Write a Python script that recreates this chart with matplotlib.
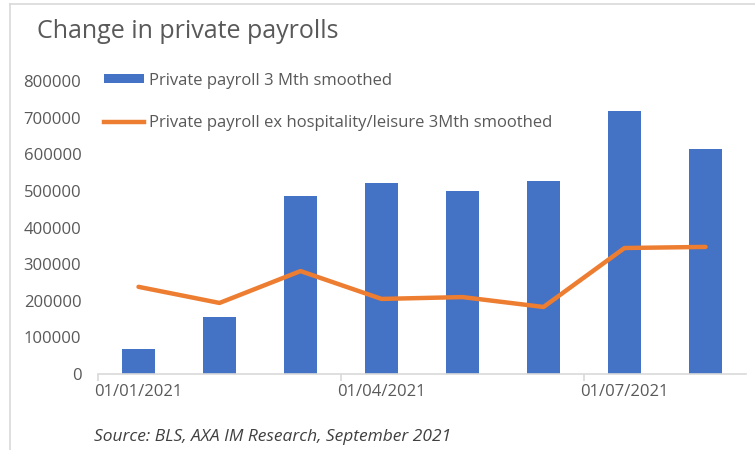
import matplotlib
matplotlib.use("Agg")
import matplotlib.pyplot as plt
from matplotlib.lines import Line2D
from matplotlib.patches import Patch
import numpy as np

months = ["01/01/2021", "01/02/2021", "01/03/2021", "01/04/2021",
          "01/05/2021", "01/06/2021", "01/07/2021", "01/08/2021"]
payroll_3m = [68000, 156000, 486000, 522000, 500000, 527000, 718000, 615000]
payroll_ex_hosp_3m = [238000, 194000, 281000, 205000, 210000, 183000, 344000, 347000]
yticks = [0, 100000, 200000, 300000, 400000, 500000, 600000, 700000, 800000]
xlabel_idx = [0, 3, 6]

BLUE = "#4472C4"
ORANGE = "#ED7D31"
GRAY = "#595959"
LGRAY = "#D9D9D9"

plt.rcParams['font.family'] = ['Open Sans', 'DejaVu Sans']

fig = plt.figure(figsize=(7.55, 4.5), dpi=100)
ax = fig.add_axes([98/755, 1-374/450, (746-98)/755, (374-81)/450])

x = np.arange(len(months))
ax.bar(x, payroll_3m, width=0.41, color=BLUE, zorder=2)
ax.plot(x, payroll_ex_hosp_3m, color=ORANGE, lw=3.2, solid_capstyle='round', zorder=3)

ax.set_xlim(-0.5, len(months) - 0.5)
ax.set_ylim(0, 800000)
ax.set_yticks(yticks)
ax.set_yticklabels([str(v) for v in yticks])
ax.tick_params(axis='y', length=0, pad=12, labelsize=12, labelcolor=GRAY)

# major ticks at category boundaries (no labels), minor for labels
ax.set_xticks([i - 0.5 for i in xlabel_idx])
ax.set_xticklabels([])
ax.set_xticks(xlabel_idx, minor=True)
ax.set_xticklabels([months[i] for i in xlabel_idx], minor=True)
ax.tick_params(axis='x', which='major', length=5, color=LGRAY, width=1.2)
ax.tick_params(axis='x', which='minor', length=0, pad=7, labelsize=12, labelcolor=GRAY)

for s in ['top', 'right', 'left']:
    ax.spines[s].set_visible(False)
ax.spines['bottom'].set_color(LGRAY)
ax.spines['bottom'].set_linewidth(1.2)

handles = [Patch(facecolor=BLUE, edgecolor='none'),
           Line2D([0], [0], color=ORANGE, lw=3.2)]
labels = ["Private payroll 3 Mth smoothed",
          "Private payroll ex hospitality/leisure 3Mth smoothed"]
leg = ax.legend(handles, labels, loc='upper left', bbox_to_anchor=(-0.008, 1.068),
                frameon=False, fontsize=12, handlelength=2.4, handleheight=0.45,
                handletextpad=0.25, labelspacing=1.58, borderaxespad=0.3)
for t in leg.get_texts():
    t.set_color(GRAY)

fig.text(37/755, 1-32/450, "Change in private payrolls", fontsize=18,
         color=GRAY, ha='left', va='center')
fig.text(94/755, 1-437/450, "Source: BLS, AXA IM Research, September 2021",
         fontsize=12.5, style='italic', color="#404040", ha='left', va='center')

# light frame lines
fig.add_artist(Line2D([10/755, 1], [1-4/450, 1-4/450], color=LGRAY, lw=1.2,
                      transform=fig.transFigure))
fig.add_artist(Line2D([10/755, 10/755], [0, 1-4/450], color=LGRAY, lw=1.2,
                      transform=fig.transFigure))

fig.savefig("out.png", dpi=100)
